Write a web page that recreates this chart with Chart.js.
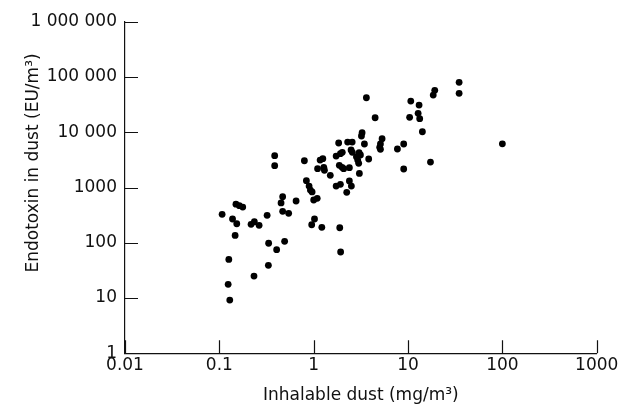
<!DOCTYPE html>
<html><head><meta charset="utf-8">
<script src="https://cdn.jsdelivr.net/npm/chart.js@4/dist/chart.umd.min.js"></script>
<style>html,body{margin:0;padding:0;background:#fff;}</style>
</head><body>
<canvas id="c" width="620" height="410"></canvas>
<script>
// Inhalable dust (mg/m3) and endotoxin in dust (EU/m3)
const dustX = [
  0.107, 0.150, 0.163, 0.177, 0.138, 0.153, 0.147, 0.126, 0.124, 0.129,
  0.217, 0.235, 0.264, 0.321, 0.333, 0.405, 0.492, 0.331, 0.233, 0.469,
  0.451, 0.469, 0.543, 0.651, 0.386, 0.386, 0.797, 0.837, 0.894, 0.923,
  0.962, 1.00, 1.09, 1.02, 0.953, 1.22, 1.89, 1.93, 1.17, 1.25,
  1.10, 1.28, 1.30, 1.50, 1.73, 1.92, 2.01, 2.49, 2.57, 1.87,
  2.00, 2.08, 2.39, 2.84, 3.03, 3.13, 2.93, 3.00, 3.83, 3.05,
  1.73, 1.92, 2.39, 2.51, 2.24, 1.84, 2.29, 2.56, 3.45, 3.26,
  3.21, 3.62, 4.48, 5.31, 5.10, 5.01, 5.10, 7.72, 9.0, 9.0,
  10.7, 13.1, 12.8, 13.3, 10.4, 14.2, 17.3, 19.2, 18.5, 34.8,
  34.8, 100
];
const endotoxinY = [
  327, 500, 468, 443, 269, 221, 136, 50, 17.7, 9.2,
  216, 240, 207, 314, 98, 75, 106, 39, 25, 681,
  525, 371, 341, 570, 3760, 2480, 3050, 1330, 1060, 900,
  830, 594, 637, 269, 212, 190, 187, 68, 3140, 3320,
  2190, 2320, 2050, 1660, 3710, 4090, 4330, 4770, 4330, 2520,
  2320, 2190, 2280, 3610, 4260, 3870, 3140, 2740, 3280, 1800,
  1060, 1140, 1310, 1060, 818, 6380, 6650, 6650, 6120, 9800,
  8550, 42100, 18300, 7640, 6120, 5330, 4910, 4970, 6120, 2160,
  36700, 31000, 22000, 17600, 18600, 10200, 2890, 57300, 47100, 80000,
  50600, 6170
];
const xTickValues = [0.01, 0.1, 1, 10, 100, 1000];
const xTickLabels = ['0.01', '0.1', '1', '10', '100', '1000'];
const yTickValues = [1, 10, 100, 1000, 10000, 100000, 1000000];
const yTickLabels = ['1', '10', '100', '1000', '10 000', '100 000', '1 000 000'];
const xTitle = 'Inhalable dust (mg/m\u00B3)';
const yTitle = 'Endotoxin in dust (EU/m\u00B3)';

const points = dustX.map((x, i) => ({x: x, y: endotoxinY[i]}));
const INK = '#111';
const FONT = {family: "'DejaVu Sans', sans-serif", size: 17};

const innerTicks = {
  id: 'innerTicks',
  afterDatasetsDraw(chart) {
    const {ctx, chartArea: a, scales: {x, y}} = chart;
    ctx.save();
    ctx.strokeStyle = INK;
    ctx.lineWidth = 1.2;
    ctx.beginPath();
    x.ticks.forEach(t => {
      const px = Math.round(x.getPixelForValue(t.value)) + 0.5;
      ctx.moveTo(px, a.bottom);
      ctx.lineTo(px, a.bottom - 13);
    });
    y.ticks.forEach(t => {
      const py = Math.round(y.getPixelForValue(t.value)) + 0.5;
      ctx.moveTo(a.left, py);
      ctx.lineTo(a.left + 13, py);
    });
    ctx.stroke();
    // y-axis title
    ctx.fillStyle = INK;
    ctx.font = FONT.size + 'px ' + FONT.family;
    ctx.textAlign = 'center';
    ctx.textBaseline = 'middle';
    ctx.translate(34, 163);
    ctx.rotate(-Math.PI / 2);
    ctx.fillText(yTitle, 0, 0);
    ctx.restore();
  }
};

new Chart(document.getElementById('c'), {
  type: 'scatter',
  data: {
    datasets: [{
      data: points,
      backgroundColor: '#000',
      borderWidth: 0,
      pointRadius: 3.4,
      pointHoverRadius: 3.4
    }]
  },
  options: {
    responsive: false,
    animation: false,
    layout: {padding: {top: 21.7, right: 23.3, bottom: 0, left: 0}},
    plugins: {legend: {display: false}, tooltip: {enabled: false}},
    scales: {
      x: {
        type: 'logarithmic',
        position: 'bottom',
        min: 0.01, max: 1000,
        grid: {display: false, drawTicks: false},
        border: {display: true, color: INK, width: 1.2},
        ticks: {
          font: FONT, color: INK, padding: 2, maxRotation: 0, autoSkip: false,
          callback: (v) => xTickLabels[xTickValues.indexOf(v)]
        },
        afterBuildTicks: s => { s.ticks = xTickValues.map(v => ({value: v})); },
        afterFit: s => { s.height = 56.7; s.paddingLeft = 0; s.paddingRight = 0; },
        title: {display: true, text: xTitle, font: FONT, color: INK, padding: {top: 0, bottom: 3.8}}
      },
      y: {
        type: 'logarithmic',
        position: 'left',
        min: 1, max: 1000000,
        grid: {display: false, drawTicks: false},
        border: {display: true, color: INK, width: 1.2},
        ticks: {
          font: FONT, color: INK, padding: 8, autoSkip: false,
          callback: (v) => yTickLabels[yTickValues.indexOf(v)]
        },
        afterBuildTicks: s => { s.ticks = yTickValues.map(v => ({value: v})); },
        afterFit: s => { s.width = 125; s.paddingTop = 0; s.paddingBottom = 0; },
        title: {display: false}
      }
    }
  },
  plugins: [innerTicks]
});
</script>
</body></html>
